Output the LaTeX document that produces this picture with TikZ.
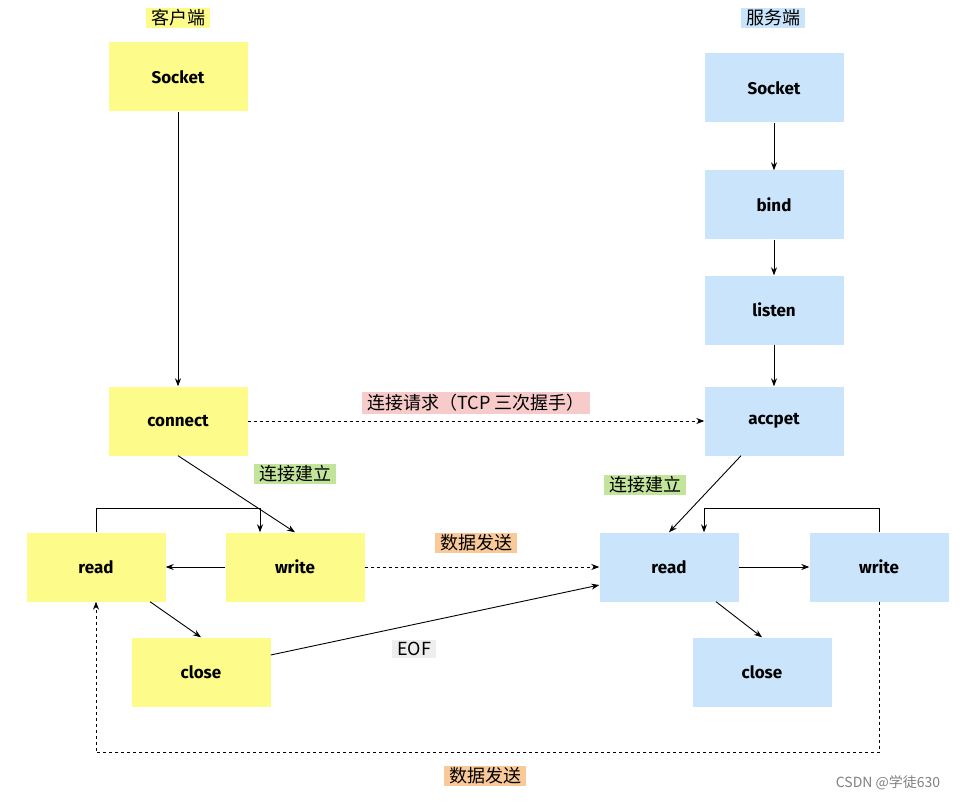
\documentclass[tikz,border=0pt]{standalone}
\usepackage{fontspec}
\setmainfont{Fira Sans}
\newfontfamily\cjk{Noto Sans CJK SC}
\usetikzlibrary{arrows.meta,positioning}
\definecolor{clientyellow}{HTML}{FDFB8A}
\definecolor{serverblue}{HTML}{CAE4FB}
\definecolor{tagpink}{HTML}{F8CBCB}
\definecolor{taggreen}{HTML}{C3E49B}
\definecolor{tagorange}{HTML}{F9C99A}
\definecolor{taggray}{HTML}{EEEEEE}

\begin{document}
\begin{tikzpicture}[x=1pt, y=-1pt, >={Stealth[length=8pt,width=6pt]}]
% styles des boites et des etiquettes
\tikzset{client/.style={fill=clientyellow, minimum width=139pt, minimum height=69pt, font=\bfseries\fontsize{17}{17}\selectfont},
server/.style={client, fill=serverblue},
tag/.style={inner xsep=5pt, inner ysep=2pt, font=\cjk\fontsize{18}{18}\selectfont},
flow/.style={->, line width=0.9pt},
msg/.style={flow, dash pattern=on 3pt off 3pt}}
\useasboundingbox (0,0) rectangle (960,802);
% cote client
\node[tag, fill=clientyellow] (ctitle) at (178,18) {客户端};
\node[client] (csocket) at (178,77) {Socket};
\node[client] (connect) at (178,421) {connect};
\node[client] (cread) at (96,567) {read};
\node[client] (cwrite) at (295,567) {write};
\node[client] (cclose) at (201,672) {close};
% cote serveur
\node[tag, fill=serverblue] (stitle) at (773,18) {服务端};
\node[server] (ssocket) at (774,88) {Socket};
\node[server] (bind) at (774,205) {bind};
\node[server] (listen) at (774,310) {listen};
\node[server] (accept) at (774,421) {accpet};
\node[server] (sread) at (669,567) {read};
\node[server] (swrite) at (879,567) {write};
\node[server] (sclose) at (762,672) {close};
% etiquettes
\node[tag, fill=tagpink] (tcp) at (476,403) {连接请求（TCP 三次握手）};
\node[tag, fill=taggreen] (cok) at (295,474) {连接建立};
\node[tag, fill=taggreen] (sok) at (645,485) {连接建立};
\node[tag, fill=tagorange] (data) at (476,543) {数据发送};
\node[tag, fill=taggray] (eof) at (414,649) {EOF};
\node[tag, fill=tagorange] (back) at (485,776) {数据发送};
\node[font=\cjk\fontsize{14}{14}\selectfont, text=gray] (mark) at (888,783) {CSDN @学徒630};
% fleches client
\draw[flow] (csocket) -- (connect);
\draw[flow] (connect.south) -- (cwrite.north);
\draw[flow] (cread.north) -- ++(0,-24) -| ([xshift=-35pt]cwrite.north);
\draw[flow] (cwrite) -- (cread);
\draw[flow] ([xshift=54pt]cread.south) -- (cclose.north);
% fleches serveur
\draw[flow] (ssocket) -- (bind);
\draw[flow] (bind) -- (listen);
\draw[flow] (listen) -- (accept);
\draw[flow] ([xshift=-33pt]accept.south) -- (sread.north);
\draw[flow] (swrite.north) -- ++(0,-24) -| ([xshift=35pt]sread.north);
\draw[flow] (sread) -- (swrite);
\draw[flow] ([xshift=47pt]sread.south) -- (sclose.north);
% echanges
\draw[msg] (connect) -- (accept);
\draw[msg] (cwrite) -- (sread);
\draw[flow] ([yshift=17pt]cclose.east) -- ([yshift=-18pt]sread.west);
\draw[msg] (swrite.south) -- ++(0,151) -| (cread.south);
\end{tikzpicture}
\end{document}
